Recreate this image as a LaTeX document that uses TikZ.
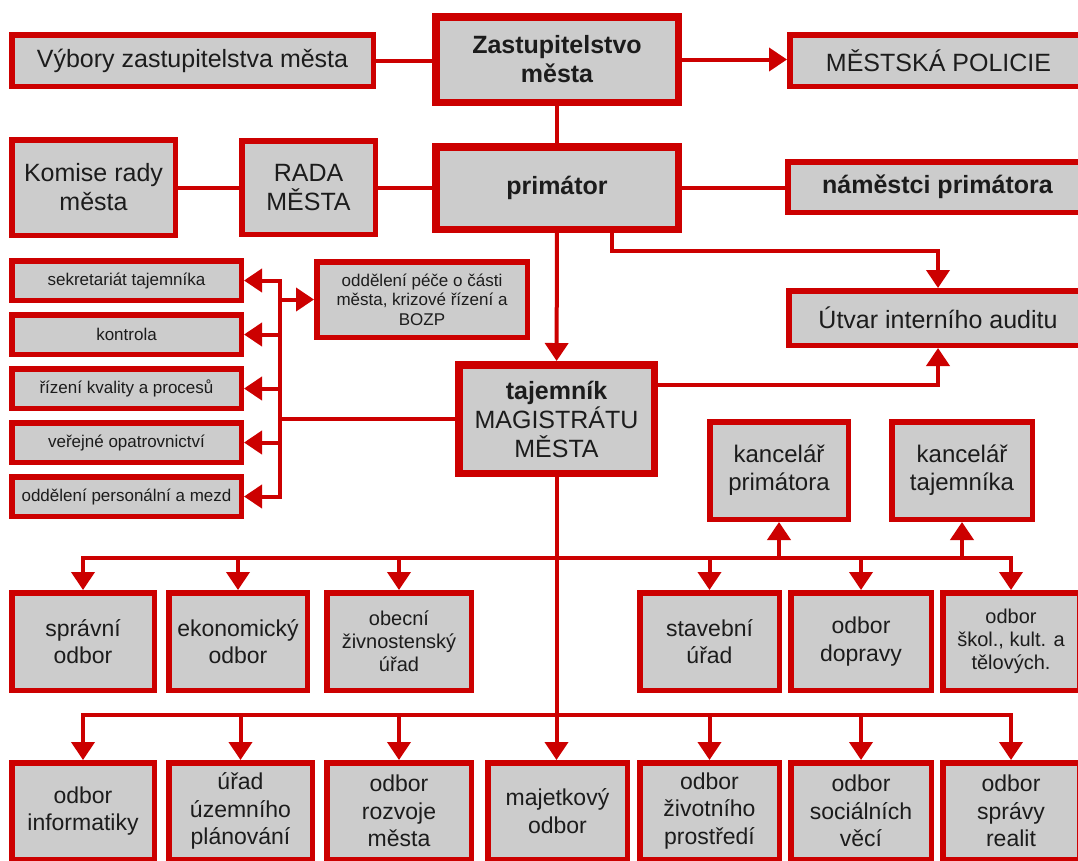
\documentclass[tikz,border=0pt]{standalone}
\usepackage{fontspec}
\setmainfont{Liberation Sans}
\usetikzlibrary{arrows.meta, calc}

\definecolor{orgred}{RGB}{204,0,0}
\definecolor{orggray}{RGB}{204,204,204}
\definecolor{orgtext}{RGB}{28,28,28}

\begin{document}
\begin{tikzpicture}[x=1pt, y=-1pt, line join=miter,
  box/.style={draw=orgred, fill=orggray, line width=5.5pt, align=center,
    inner sep=0pt, text=orgtext, font=\fontsize{25}{29}\selectfont},
  bigbox/.style={box, line width=7.5pt},
  rowbox/.style={box, font=\fontsize{23}{27.5}\selectfont},
  smallbox/.style={box, font=\fontsize{17}{19.5}\selectfont},
  midbox/.style={box, font=\fontsize{20}{23}\selectfont},
  link/.style={draw=orgred, line width=4pt, line cap=rect},
  feed/.style={link, -{Triangle[length=18pt, width=23pt]}},
]

  %% ---- page ----
  \useasboundingbox (0,0) rectangle (1078,860);
  \clip (0,0) rectangle (1078,860);

  %% ---- top: council, mayor, board ----
  \node[box, minimum width=361.5pt, minimum height=51.5pt] (vybory) at (192.5,60.5)
    {Výbory zastupitelstva města};
  \node[bigbox, minimum width=242.5pt, minimum height=85.5pt] (zast) at (557,59.5)
    {\bfseries Zastupitelstvo\\\bfseries města};
  \node[box, minimum width=297.5pt, minimum height=51.5pt] (policie) at (938.5,60.5)
    {MĚSTSKÁ POLICIE};
  \node[box, minimum width=163.5pt, minimum height=95.5pt] (komise) at (93.5,187.5)
    {Komise rady\\města};
  \node[box, minimum width=133.5pt, minimum height=93.5pt] (rada) at (308.5,187.5)
    {RADA\\MĚSTA};
  \node[bigbox, minimum width=242.5pt, minimum height=82.5pt] (primator) at (557,188)
    {\bfseries primátor};
  \node[box, minimum width=299.5pt, minimum height=50.5pt] (namestci) at (937.5,187)
    {\bfseries náměstci primátora};

  %% ---- secretary and his units ----
  \node[smallbox, minimum width=229.5pt, minimum height=39.5pt] (sekretariat) at (126.5,280.5)
    {sekretariát tajemníka};
  \node[smallbox, minimum width=229.5pt, minimum height=39.5pt] (kontrola) at (126.5,334.5)
    {kontrola};
  \node[smallbox, minimum width=229.5pt, minimum height=39.5pt] (rizeni) at (126.5,388.5)
    {řízení kvality a procesů};
  \node[smallbox, minimum width=229.5pt, minimum height=39.5pt] (verejne) at (126.5,442.5)
    {veřejné opatrovnictví};
  \node[smallbox, minimum width=229.5pt, minimum height=39.5pt] (personalni) at (126.5,496.5)
    {oddělení personální a mezd};
  \node[smallbox, minimum width=210.5pt, minimum height=75.5pt] (pece) at (422,299.5)
    {oddělení péče o části\\města, krizové řízení a\\BOZP};
  \node[box, minimum width=298.5pt, minimum height=54.5pt] (utvar) at (938,318)
    {Útvar interního auditu};
  \node[bigbox, minimum width=195.5pt, minimum height=108.5pt] (tajemnik) at (556.5,419)
    {\bfseries tajemník\\MAGISTRÁTU\\MĚSTA};
  \node[box, minimum width=138.5pt, minimum height=97.5pt, font=\fontsize{24}{28}\selectfont]
    (kancprim) at (779,470.5) {kancelář\\primátora};
  \node[box, minimum width=140.5pt, minimum height=97.5pt, font=\fontsize{24}{28}\selectfont]
    (kanctaj) at (962,470.5) {kancelář\\tajemníka};

  %% ---- departments, first row ----
  \node[rowbox, minimum width=142.5pt, minimum height=97.5pt] (spravni) at (83,641.5)
    {správní\\odbor};
  \node[rowbox, minimum width=138.5pt, minimum height=97.5pt] (ekonomicky) at (238,641.5)
    {ekonomický\\odbor};
  \node[midbox, minimum width=144.5pt, minimum height=97.5pt] (obecni) at (399,641.5)
    {obecní\\živnostenský\\úřad};
  \node[rowbox, minimum width=139.5pt, minimum height=97.5pt] (stavebni) at (709.5,641.5)
    {stavební\\úřad};
  \node[rowbox, minimum width=140.5pt, minimum height=97.5pt] (doprava) at (861,641.5)
    {odbor\\dopravy};
  \node[midbox, minimum width=136.5pt, minimum height=97.5pt] (skolstvi) at (1011,641.5)
    {odbor\\škol., kult. a\\tělových.};

  %% ---- departments, second row ----
  \node[rowbox, minimum width=142.5pt, minimum height=96.5pt] (informatiky) at (83,811)
    {odbor\\informatiky};
  \node[rowbox, minimum width=143.5pt, minimum height=96.5pt] (uzemni) at (240.5,811)
    {úřad\\územního\\plánování};
  \node[rowbox, minimum width=144.5pt, minimum height=96.5pt] (rozvoj) at (399,811)
    {odbor\\rozvoje\\města};
  \node[rowbox, minimum width=139.5pt, minimum height=96.5pt] (majetek) at (557.5,811)
    {majetkový\\odbor};
  \node[rowbox, minimum width=139.5pt, minimum height=96.5pt] (zivotni) at (709.5,811)
    {odbor\\životního\\prostředí};
  \node[rowbox, minimum width=140.5pt, minimum height=96.5pt] (socialni) at (861,811)
    {odbor\\sociálních\\věcí};
  \node[rowbox, minimum width=136.5pt, minimum height=96.5pt] (realit) at (1011,811)
    {odbor\\správy\\realit};

  %% ---- top links ----
  \draw[link] (vybory.east) -- (vybory.east -| zast.west);
  \draw[feed] (zast.east) -- (zast.east -| policie.west);
  \draw[link] (zast) -- (primator);
  \draw[link] (komise.east) -- (komise.east -| rada.west);
  \draw[link] (rada.east) -- (rada.east -| primator.west);
  \draw[link] (primator.east) -- (primator.east -| namestci.west);

  %% ---- audit ----
  \draw[feed] ([xshift=55pt]primator.south) -- ++(0,18) -| (utvar.north);
  \draw[feed] ([yshift=34pt]tajemnik.east) -| (utvar.south);
  \draw[feed] (primator) -- (tajemnik);

  %% ---- side bus to the secretary's units ----
  \coordinate (sidebus) at (280,419);
  \draw[link] (tajemnik.west) -- (sidebus);
  \draw[link] (sidebus |- sekretariat.east) -- (sidebus |- personalni.east);
  \foreach \n in {sekretariat, kontrola, rizeni, verejne, personalni}
    \draw[feed] (sidebus |- \n.east) -- (\n.east);
  \draw[feed] (sidebus |- pece.west) -- (pece.west);

  %% ---- trunk and department buses ----
  \coordinate (rowbus1) at (557,558);
  \coordinate (rowbus2) at (557,715);
  \draw[feed] (tajemnik.south) -- (tajemnik.south |- majetek.north);
  \draw[link] (spravni.north |- rowbus1) -- (skolstvi.north |- rowbus1);
  \foreach \n in {spravni, ekonomicky, obecni, stavebni, doprava, skolstvi}
    \draw[feed] (\n.north |- rowbus1) -- (\n.north);
  \foreach \n in {kancprim, kanctaj}
    \draw[feed] (\n.south |- rowbus1) -- (\n.south);
  \draw[link] (informatiky.north |- rowbus2) -- (realit.north |- rowbus2);
  \foreach \n in {informatiky, uzemni, rozvoj, zivotni, socialni, realit}
    \draw[feed] (\n.north |- rowbus2) -- (\n.north);

\end{tikzpicture}
\end{document}
